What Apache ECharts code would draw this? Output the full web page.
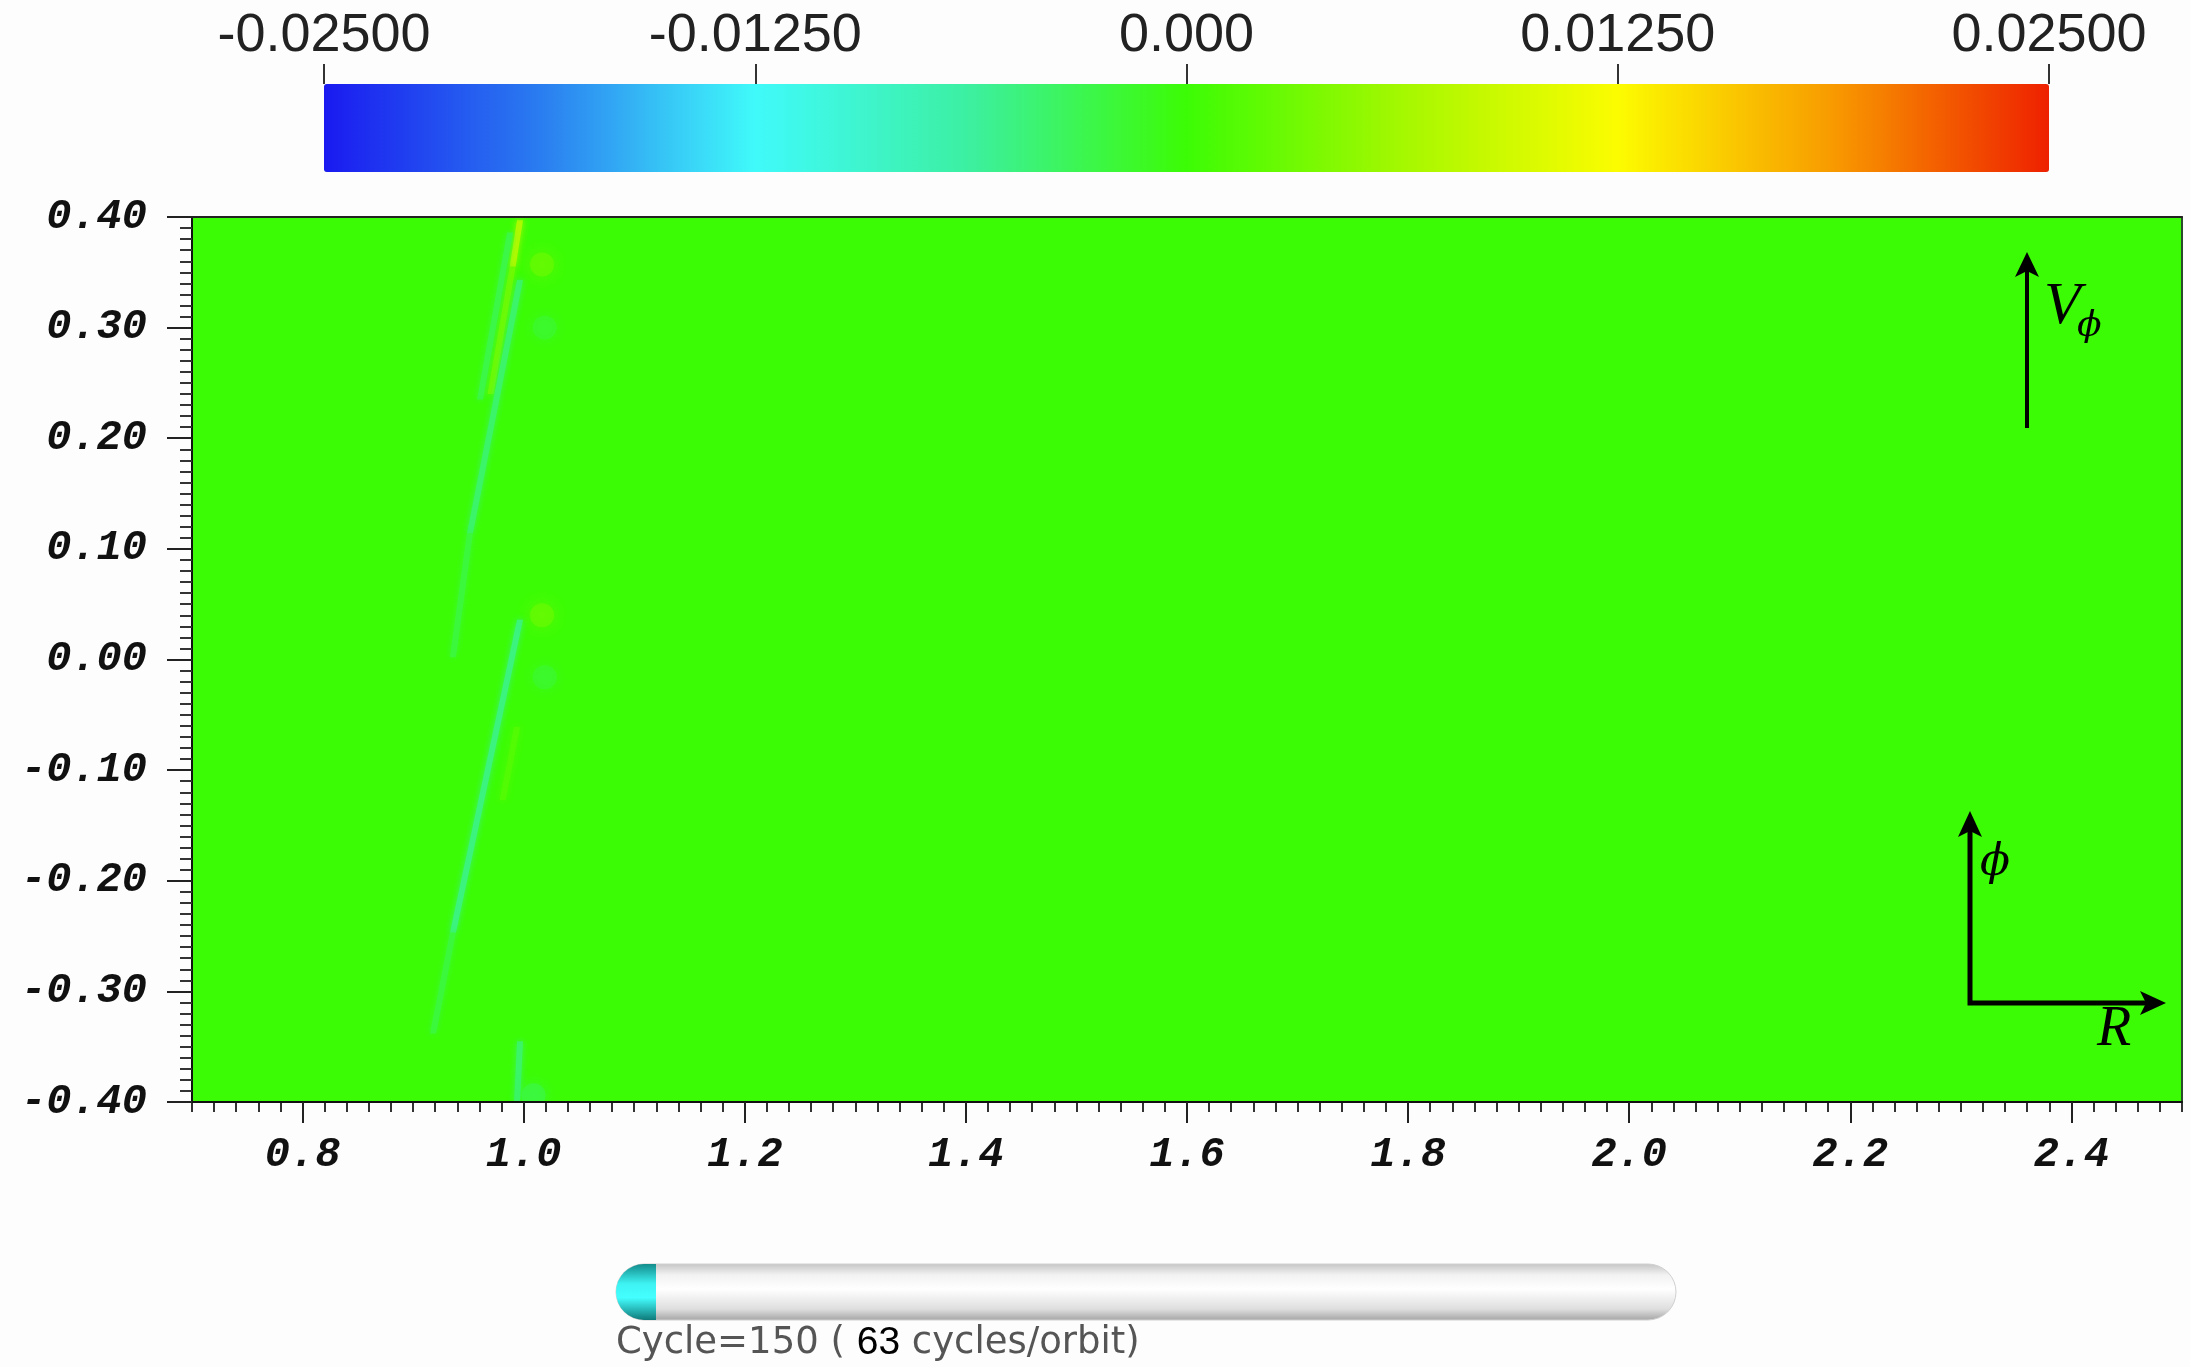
<!DOCTYPE html>
<html><head><meta charset="utf-8">
<script src="https://cdn.jsdelivr.net/npm/echarts@6/dist/echarts.min.js"></script>
<style>html,body{margin:0;padding:0;background:#fdfdfd}#c{width:2190px;height:1367px}</style>
</head><body><div id="c"></div>
<script>
// ---------- data ----------
const xRange = [0.7, 2.5];
const yRange = [-0.4, 0.4];
const xMajorTicks = [0.8, 1.0, 1.2, 1.4, 1.6, 1.8, 2.0, 2.2, 2.4];
const xTickLabels = ['0.8', '1.0', '1.2', '1.4', '1.6', '1.8', '2.0', '2.2', '2.4'];
const yTickValues = [-0.4, -0.3, -0.2, -0.1, 0, 0.1, 0.2, 0.3, 0.4];
const yTickLabels = ['-0.40', '-0.30', '-0.20', '-0.10', '0.00', '0.10', '0.20', '0.30', '0.40'];
const cbRange = [-0.025, 0.025];
const cbTickValues = [-0.025, -0.0125, 0, 0.0125, 0.025];
const cbTickLabels = ['-0.02500', '-0.01250', '0.000', '0.01250', '0.02500'];
const cbColors = ['#1a1af0', '#2a7cf0', '#40fafa', '#3cf0a0', '#3cfc05', '#a4f800', '#fcfc00', '#f89a00', '#ee2000'];
// background field patch: [x0, y0, x1, y1, value]
const fieldPatches = [[0.7, 0.4, 2.5, -0.4, 0.0]];
// thin streaks: [xTop, yTop, xBottom, yBottom, value]
const streaks = [
  [0.9967, 0.397, 0.9900, 0.355, 0.008],
  [0.9900, 0.355, 0.9700, 0.240, 0.0035],
  [0.9877, 0.386, 0.9605, 0.235, -0.003],
  [0.9967, 0.343, 0.9514, 0.114, -0.0045],
  [0.9514, 0.114, 0.936, 0.002, -0.0025],
  [0.9967, 0.036, 0.936, -0.247, -0.0055],
  [0.936, -0.247, 0.918, -0.338, -0.0025],
  [0.994, -0.061, 0.981, -0.127, 0.0015],
  [0.9967, -0.345, 0.994, -0.400, -0.0045]
];
// soft blobs: [x, y, value]
const blobs = [
  [1.0166, 0.357, 0.003],
  [1.0190, 0.300, -0.002],
  [1.0166, 0.040, 0.003],
  [1.0190, -0.016, -0.002],
  [1.0090, -0.394, -0.003]
];
const cycleNumber = 150;
const cyclesPerOrbit = 63;

// ---------- chart ----------
const chart = echarts.init(document.getElementById('c'), null, {renderer: 'canvas'});
const lookup = (vals, labels) => v => {
  for (let i = 0; i < vals.length; i++) if (Math.abs(v - vals[i]) < 1e-9) return labels[i];
  return '';
};
const tickFont = {fontFamily: '"Liberation Mono", "DejaVu Sans Mono", monospace', fontWeight: 'bold', fontStyle: 'italic', fontSize: 42, color: '#111'};

chart.setOption({
  backgroundColor: '#fdfdfd',
  animation: false,
  grid: [
    {left: 192, top: 217, width: 1990, height: 885, show: false},
    {left: 324, top: 84, width: 1725, height: 88, show: false}
  ],
  visualMap: {
    type: 'continuous', min: cbRange[0], max: cbRange[1], orient: 'horizontal',
    left: 324, top: 84, itemWidth: 88, itemHeight: 1725, padding: 0,
    calculable: false, hoverLink: false, text: null, seriesIndex: [0, 1, 2],
    inRange: {color: cbColors}
  },
  xAxis: [
    {gridIndex: 0, type: 'value', min: xRange[0], max: xRange[1], position: 'bottom', z: 10,
     axisLine: {show: true, onZero: false, lineStyle: {color: '#111', width: 2}},
     axisTick: {show: true, length: 21, customValues: xMajorTicks, lineStyle: {color: '#222', width: 2}},
     axisLabel: Object.assign({margin: 32, customValues: xMajorTicks, formatter: lookup(xMajorTicks, xTickLabels)}, tickFont),
     splitLine: {show: false}},
    {gridIndex: 0, type: 'value', min: xRange[0], max: xRange[1], interval: 0.02, position: 'bottom', z: 9,
     axisLine: {show: false, onZero: false}, axisLabel: {show: false}, splitLine: {show: false},
     axisTick: {show: true, length: 10, lineStyle: {color: '#333', width: 2}}},
    {gridIndex: 1, type: 'value', min: cbRange[0], max: cbRange[1], interval: 0.0125, position: 'top', z: 10,
     axisLine: {show: false, onZero: false}, splitLine: {show: false},
     axisTick: {show: true, length: 20, lineStyle: {color: '#333', width: 2}},
     axisLabel: {margin: 21, fontSize: 54, fontFamily: '"Liberation Sans", Arial, sans-serif', color: '#222',
                 formatter: lookup(cbTickValues, cbTickLabels)}},
    {gridIndex: 0, type: 'value', min: xRange[0], max: xRange[1], position: 'top', z: 10,
     axisLine: {show: true, onZero: false, lineStyle: {color: '#222', width: 2}},
     axisTick: {show: false}, axisLabel: {show: false}, splitLine: {show: false}}
  ],
  yAxis: [
    {gridIndex: 0, type: 'value', min: yRange[0], max: yRange[1], interval: 0.1, position: 'left', z: 10,
     axisLine: {show: true, onZero: false, lineStyle: {color: '#111', width: 2}},
     axisTick: {show: true, length: 25, lineStyle: {color: '#222', width: 2}},
     minorTick: {show: true, splitNumber: 10, length: 12, lineStyle: {color: '#333', width: 2}},
     axisLabel: Object.assign({margin: 45, formatter: lookup(yTickValues, yTickLabels)}, tickFont),
     splitLine: {show: false}, minorSplitLine: {show: false}},
    {gridIndex: 1, type: 'value', min: 0, max: 1, show: false},
    {gridIndex: 0, type: 'value', min: yRange[0], max: yRange[1], position: 'right', z: 10,
     axisLine: {show: true, onZero: false, lineStyle: {color: '#2a4a2a', width: 2}},
     axisTick: {show: false}, axisLabel: {show: false}, splitLine: {show: false}}
  ],
  series: [
    {type: 'custom', xAxisIndex: 0, yAxisIndex: 0, z: 1, clip: true, data: fieldPatches,
     renderItem: (params, api) => {
       const p0 = api.coord([api.value(0), api.value(1)]);
       const p1 = api.coord([api.value(2), api.value(3)]);
       return {type: 'rect', shape: {x: p0[0], y: p0[1], width: p1[0] - p0[0], height: p1[1] - p0[1]},
               style: {fill: api.visual('color')}};
     }},
    {type: 'custom', xAxisIndex: 0, yAxisIndex: 0, z: 2, clip: true, data: streaks,
     renderItem: (params, api) => {
       const a = api.coord([api.value(0), api.value(1)]);
       const b = api.coord([api.value(2), api.value(3)]);
       const hw = 3;
       const c = api.visual('color');
       return {type: 'polygon', shape: {points: [[a[0] - hw, a[1]], [a[0] + hw, a[1]], [b[0] + hw, b[1]], [b[0] - hw, b[1]]]},
               style: {fill: c, opacity: 0.8, shadowBlur: 6, shadowColor: c}};
     }},
    {type: 'custom', xAxisIndex: 0, yAxisIndex: 0, z: 2, clip: true, data: blobs,
     renderItem: (params, api) => {
       const p = api.coord([api.value(0), api.value(1)]);
       const c = api.visual('color');
       return {type: 'circle', shape: {cx: p[0], cy: p[1], r: 12},
               style: {fill: c, opacity: 0.6, shadowBlur: 14, shadowColor: c}};
     }}
  ],
  graphic: [
    {type: 'line', z: 100, shape: {x1: 2027, y1: 428, x2: 2027, y2: 268}, style: {stroke: '#000', lineWidth: 4}},
    {type: 'polygon', z: 100, shape: {points: [[2027, 252], [2039, 277], [2027, 271], [2015, 277]]}, style: {fill: '#000'}},
    {type: 'text', z: 100, x: 2044, y: 277, style: {text: 'V', fontFamily: '"Liberation Serif", "DejaVu Serif", serif', fontStyle: 'italic', fontSize: 60, fill: '#000', align: 'left', verticalAlign: 'top'}},
    {type: 'text', z: 100, x: 2077, y: 309, style: {text: 'ϕ', fontFamily: '"DejaVu Serif", "Liberation Serif", serif', fontStyle: 'italic', fontSize: 36, fill: '#000', align: 'left', verticalAlign: 'top'}},
    {type: 'polyline', z: 100, shape: {points: [[1970, 826], [1970, 1003], [2152, 1003]]}, style: {stroke: '#000', lineWidth: 5, fill: null}},
    {type: 'polygon', z: 100, shape: {points: [[1970, 811], [1982, 837], [1970, 831], [1958, 837]]}, style: {fill: '#000'}},
    {type: 'polygon', z: 100, shape: {points: [[2166, 1003], [2140, 1015], [2146, 1003], [2140, 991]]}, style: {fill: '#000'}},
    {type: 'text', z: 100, x: 1980, y: 842, style: {text: 'ϕ', fontFamily: '"DejaVu Serif", "Liberation Serif", serif', fontStyle: 'italic', fontSize: 44, fill: '#000', align: 'left', verticalAlign: 'top'}},
    {type: 'text', z: 100, x: 2097, y: 1002, style: {text: 'R', fontFamily: '"Liberation Serif", "DejaVu Serif", serif', fontStyle: 'italic', fontSize: 56, fill: '#000', align: 'left', verticalAlign: 'top'}},
    {type: 'rect', z: 100, shape: {x: 616, y: 1264, width: 1060, height: 56, r: 28},
     style: {fill: new echarts.graphic.LinearGradient(0, 0, 0, 1, [
       {offset: 0, color: '#c4c4c4'}, {offset: 0.2, color: '#f2f2f2'}, {offset: 0.45, color: '#ffffff'},
       {offset: 0.8, color: '#dedede'}, {offset: 1, color: '#a4a4a4'}]), stroke: '#d0d0d0', lineWidth: 1}},
    {type: 'rect', z: 101, shape: {x: 616, y: 1264, width: 40, height: 56, r: [28, 0, 0, 28]},
     style: {fill: new echarts.graphic.LinearGradient(0, 0, 0, 1, [
       {offset: 0, color: '#148c8c'}, {offset: 0.35, color: '#3ef2f2'}, {offset: 0.6, color: '#44ffff'}, {offset: 1, color: '#0f7a7a'}])}},
    {type: 'text', z: 100, x: 616, y: 1324, style: {
      text: '{a|Cycle=' + cycleNumber + ' ( }{b|' + cyclesPerOrbit + '}{a| cycles/orbit)}',
      align: 'left', verticalAlign: 'top',
      rich: {a: {fontFamily: '"DejaVu Sans", sans-serif', fontSize: 37, fill: '#555'},
             b: {fontFamily: '"Liberation Sans Narrow", "Liberation Sans", sans-serif', fontSize: 39, fill: '#000'}}}}
  ]
});
</script></body></html>
